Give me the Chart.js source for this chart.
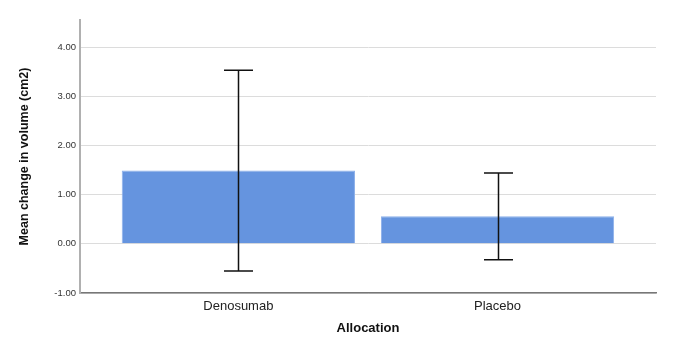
<!DOCTYPE html>
<html>
<head>
<meta charset="utf-8">
<script src="https://cdn.jsdelivr.net/npm/chart.js@4/dist/chart.umd.min.js"></script>
<style>
  html, body { margin: 0; padding: 0; background: #fff; }
  #wrap { width: 685px; height: 358px; }
</style>
</head>
<body>
<div id="wrap"><canvas id="c" width="685" height="358"></canvas></div>
<script>
const categories = ['Denosumab', 'Placebo'];
const meanChange = [1.49, 0.56];
const ciUpper = [3.53, 1.44];
const ciLower = [-0.555, -0.325];
const yTicks = [-1, 0, 1, 2, 3, 4];

const FONT = "'Liberation Sans', Arial, sans-serif";

const errorBars = {
  id: 'errorBars',
  afterDatasetsDraw(chart) {
    const { ctx, scales: { x, y } } = chart;
    ctx.save();
    ctx.strokeStyle = '#111';
    ctx.lineWidth = 1.5;
    const cap = 14.5;
    categories.forEach((c, i) => {
      const px = Math.round(x.getPixelForValue(i)) + 0.5;
      const top = y.getPixelForValue(ciUpper[i]);
      const bot = y.getPixelForValue(ciLower[i]);
      ctx.beginPath();
      ctx.moveTo(px, top); ctx.lineTo(px, bot);
      ctx.moveTo(px - cap, top); ctx.lineTo(px + cap, top);
      ctx.moveTo(px - cap, bot); ctx.lineTo(px + cap, bot);
      ctx.stroke();
    });
    ctx.restore();
  }
};

new Chart(document.getElementById('c'), {
  type: 'bar',
  data: {
    datasets: [{
      data: categories.map((c, i) => ({ x: i, y: meanChange[i] })),
      backgroundColor: '#6594df',
      borderColor: '#8cb0ea',
      borderWidth: 1,
      barPercentage: 1.0,
      categoryPercentage: 0.9
    }]
  },
  options: {
    responsive: false,
    animation: false,
    events: [],
    layout: { padding: { left: 0, right: 29, top: 20, bottom: 0 } },
    plugins: { legend: { display: false }, tooltip: { enabled: false } },
    scales: {
      x: {
        type: 'linear',
        offset: false,
        min: -0.611,
        max: 1.6115,
        afterBuildTicks: (s) => { s.ticks = categories.map((c, i) => ({ value: i })); },
        afterFit: (s) => { s.height = 65; },
        grid: { display: false, drawTicks: false },
        border: { display: true, color: '#777', width: 1.5 },
        ticks: {
          padding: 6,
          color: '#222',
          font: { family: FONT, size: 13 },
          callback: (v) => categories[v]
        },
        title: {
          display: true,
          text: 'Allocation',
          color: '#111',
          font: { family: FONT, size: 13, weight: 'bold' },
          padding: { top: 0, bottom: 22 }
        }
      },
      y: {
        min: -1,
        max: 4.55,
        afterBuildTicks: (s) => { s.ticks = yTicks.map(v => ({ value: v })); },
        afterFit: (s) => { s.width = 80; },
        grid: { color: '#dcdcdc', lineWidth: 1, drawTicks: false },
        border: { display: true, color: '#b0b0b0', width: 2 },
        ticks: {
          padding: 4,
          color: '#333',
          font: { family: FONT, size: 9.5 },
          callback: (v) => Number(v).toFixed(2)
        },
        title: {
          display: true,
          text: 'Mean change in volume (cm2)',
          color: '#111',
          font: { family: FONT, size: 12.5, weight: 'bold' },
          padding: { top: 17, bottom: 0 }
        }
      }
    }
  },
  plugins: [errorBars]
});
</script>
</body>
</html>
